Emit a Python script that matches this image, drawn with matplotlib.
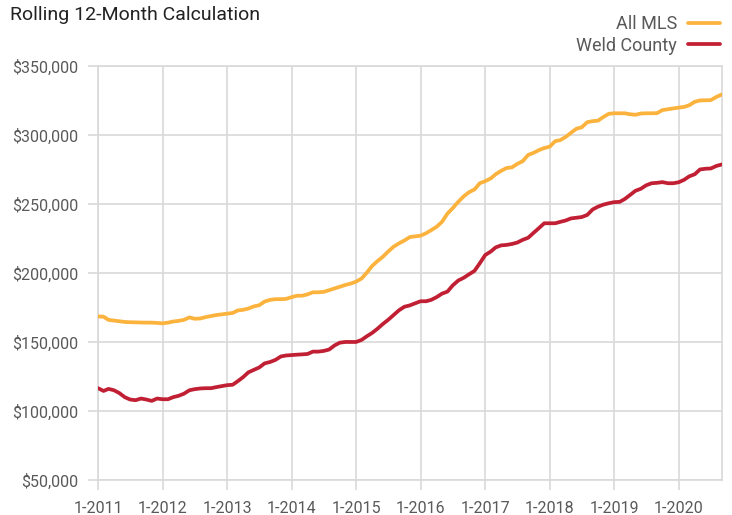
import matplotlib
matplotlib.use("Agg")
import matplotlib.pyplot as plt
import matplotlib.dates as mdates
from matplotlib.ticker import FuncFormatter
import pandas as pd

plt.rcParams["font.family"] = ["Roboto", "DejaVu Sans"]

months = pd.date_range("2011-01-01", "2020-09-01", freq="MS")

# rolling 12-month values, in thousands of dollars
all_mls = [
    168.5, 168.3, 166.0, 165.5, 165.0, 164.5, 164.3, 164.2, 164.1, 164.0, 164.0, 163.8,
    163.5, 164.0, 164.8, 165.3, 166.0, 167.8, 166.8, 167.0, 168.0, 168.8, 169.5, 170.0,
    170.5, 171.0, 172.8, 173.3, 174.2, 175.8, 176.6, 179.3, 180.5, 181.0, 181.0, 181.2,
    182.5, 183.5, 183.5, 184.5, 186.0, 186.0, 186.3, 187.5, 188.8, 190.0, 191.3, 192.3,
    193.7, 196.0, 200.0, 205.0, 208.5, 211.7, 215.5, 219.0, 221.5, 223.5, 226.0, 226.5,
    227.0, 228.8, 231.0, 233.5, 237.0, 243.0, 247.0, 251.5, 255.5, 258.5, 260.5, 265.0,
    266.5, 268.5, 271.5, 274.0, 276.0, 276.5, 279.0, 281.0, 285.5, 287.0, 289.0, 290.5,
    291.5, 295.5, 296.2, 298.5, 301.5, 304.5, 305.5, 309.2, 310.0, 310.3, 313.0, 315.3,
    315.7, 315.7, 315.7, 315.0, 314.6, 315.5, 315.7, 315.7, 315.8, 318.0, 318.6, 319.2,
    319.8, 320.3, 321.5, 324.0, 325.0, 325.1, 325.2, 327.5, 329.3,
]
weld = [
    116.5, 114.5, 116.0, 115.0, 113.0, 110.0, 108.3, 107.8, 109.0, 108.3, 107.3, 109.0,
    108.5, 108.5, 110.0, 111.0, 112.5, 115.0, 115.8, 116.3, 116.5, 116.5, 117.3, 118.0,
    118.7, 119.0, 121.5, 124.5, 128.0, 129.8, 131.5, 134.5, 135.5, 137.0, 139.5, 140.2,
    140.5, 140.8, 141.0, 141.3, 143.0, 143.0, 143.5, 144.5, 147.5, 149.5, 150.0, 150.0,
    150.0, 151.5, 154.0, 156.5, 159.5, 163.0, 166.0, 169.5, 173.0, 175.5, 176.5, 178.0,
    179.5, 179.5, 180.5, 182.5, 185.0, 186.5, 191.0, 194.5, 196.5, 199.0, 201.5, 207.0,
    213.0, 215.5, 218.5, 220.0, 220.3, 221.0, 222.0, 224.0, 225.5, 229.0, 232.5, 236.0,
    236.0, 236.0, 237.0, 238.0, 239.5, 240.0, 240.5, 242.0, 246.0, 248.0, 249.5, 250.5,
    251.3, 251.5, 253.5, 256.5, 259.5, 261.0, 263.5, 265.0, 265.3, 265.8, 265.0, 265.0,
    265.7, 267.5, 270.0, 271.5, 275.0, 275.5, 275.7, 277.5, 278.6,
]
y_ticks = [50000, 100000, 150000, 200000, 250000, 300000, 350000]

grid_c = "#d9d9d9"
txt_c = "#595959"

fig = plt.figure(figsize=(7.32, 5.15), dpi=100)
ax = fig.add_axes([0.134, 0.068, 0.852, 0.804])

ax.plot(months, [v * 1000 for v in all_mls], color="#fbb33d", lw=2.7,
        label="All MLS", solid_capstyle="round", zorder=3)
ax.plot(months, [v * 1000 for v in weld], color="#c11f33", lw=2.7,
        label="Weld County", solid_capstyle="round", zorder=3)

ax.set_xlim(months[0], months[-1])
ax.set_ylim(50000, 350000)
ax.set_yticks(y_ticks)
ax.yaxis.set_major_formatter(FuncFormatter(lambda v, p: "${:,.0f}".format(v)))
ax.xaxis.set_major_locator(mdates.YearLocator(month=1))
ax.xaxis.set_major_formatter(FuncFormatter(
    lambda v, p: "1-{}".format(mdates.num2date(v).year)))

ax.grid(True, color=grid_c, lw=1.2)
ax.set_axisbelow(True)
for s in ax.spines.values():
    s.set_color(grid_c)
    s.set_linewidth(1.2)
ax.tick_params(axis="both", color=grid_c, width=1.2, length=7,
               labelcolor=txt_c, labelsize=11.5)
ax.tick_params(axis="x", pad=8)
ax.tick_params(axis="y", pad=7)

fig.text(0.014, 0.988, "Rolling 12-Month Calculation", fontsize=14,
         color="#222222", va="top", ha="left")

leg = ax.legend(loc="lower right", bbox_to_anchor=(1.008, 1.01), frameon=False,
                markerfirst=False, fontsize=13, handlelength=1.75,
                handletextpad=0.6, labelspacing=0.2, borderaxespad=0.0)
for t in leg.get_texts():
    t.set_color(txt_c)

fig.savefig("out.png", dpi=100)
